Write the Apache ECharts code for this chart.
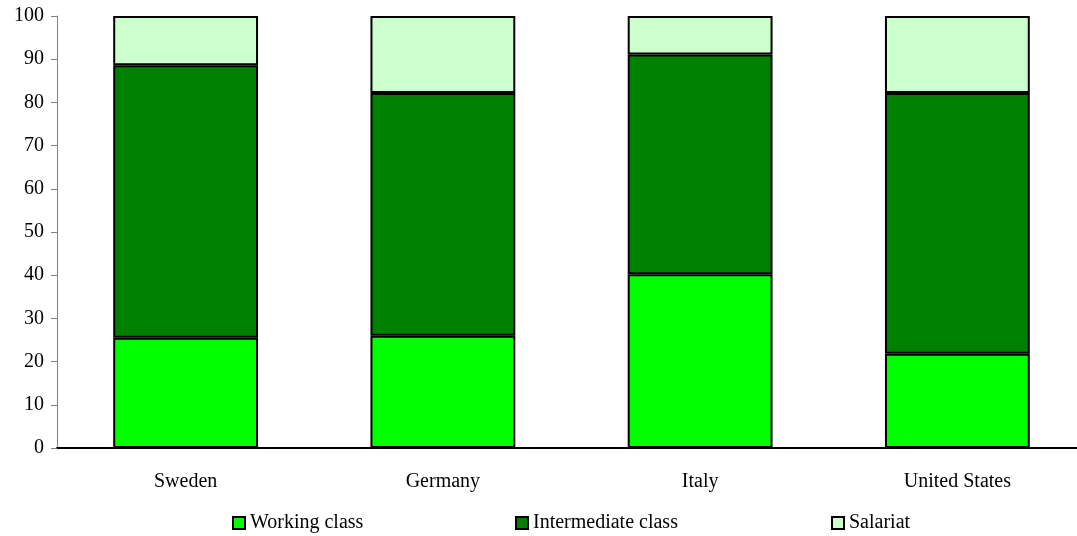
<!DOCTYPE html>
<html>
<head>
<meta charset="utf-8">
<script src="https://cdn.jsdelivr.net/npm/echarts@6/dist/echarts.min.js"></script>
<style>
  html, body { margin: 0; padding: 0; background: #ffffff; }
  #chart { width: 1077px; height: 536px; }
</style>
</head>
<body>
<div id="chart"></div>
<script>
// Class composition by country (percent, stacked to 100)
const countries = ['Sweden', 'Germany', 'Italy', 'United States'];
const workingClass = [25.5, 26.0, 40.2, 21.8];
const intermediateClass = [63.1, 56.2, 50.9, 60.4];
const salariat = [11.4, 17.8, 8.9, 17.8];
const yTicks = [0, 10, 20, 30, 40, 50, 60, 70, 80, 90, 100];

const seriesNames = ['Working class', 'Intermediate class', 'Salariat'];
const seriesColors = ['#00ff00', '#008000', '#ccffcc'];
const seriesData = [workingClass, intermediateClass, salariat];

const fontFamily = '"Liberation Serif", "Times New Roman", serif';

const chart = echarts.init(document.getElementById('chart'), null, { renderer: 'canvas' });

const legendX = [232, 515, 831];

chart.setOption({
  animation: false,
  backgroundColor: '#ffffff',
  textStyle: { fontFamily: fontFamily },
  // plot area runs a little past the right edge of the canvas
  grid: { left: 57, width: 1029, top: 16, height: 432, containLabel: false, outerBoundsMode: 'none' },
  legend: seriesNames.map((name, i) => ({
    data: [name],
    left: legendX[i],
    top: 513,
    padding: 0,
    icon: 'rect',
    itemWidth: 12,
    itemHeight: 12,
    itemGap: 0,
    textStyle: { fontFamily: fontFamily, fontSize: 20, color: '#000', padding: [0, 0, 0, 0] },
    itemStyle: { borderColor: '#000', borderWidth: 2 },
    selectedMode: false
  })),
  xAxis: {
    type: 'category',
    data: countries,
    axisLine: { lineStyle: { color: '#000', width: 2 } },
    axisTick: { show: false },
    axisLabel: { color: '#000', fontSize: 20, fontFamily: fontFamily, margin: 24 }
  },
  yAxis: {
    type: 'value',
    min: yTicks[0],
    max: yTicks[yTicks.length - 1],
    interval: yTicks[1] - yTicks[0],
    axisLine: { show: true, lineStyle: { color: '#808080', width: 1 } },
    axisTick: { show: true, length: 6, lineStyle: { color: '#808080' } },
    splitLine: { show: false },
    axisLabel: { color: '#000', fontSize: 20, fontFamily: fontFamily, margin: 13 }
  },
  series: seriesNames.map((name, i) => ({
    name: name,
    type: 'bar',
    stack: 'total',
    barWidth: '56.3%',
    data: seriesData[i],
    itemStyle: { color: seriesColors[i], borderColor: '#000', borderWidth: 2 }
  }))
});
</script>
</body>
</html>
